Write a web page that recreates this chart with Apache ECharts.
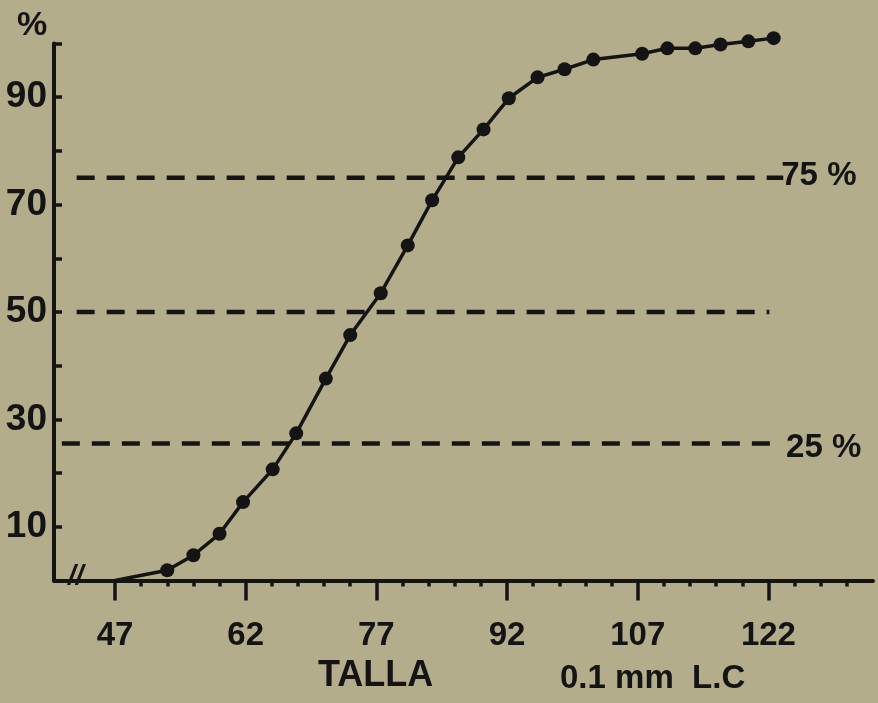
<!DOCTYPE html>
<html>
<head>
<meta charset="utf-8">
<script src="https://cdn.jsdelivr.net/npm/echarts@6/dist/echarts.min.js"></script>
<style>
html,body{margin:0;padding:0;background:#b4ad8c;}
#c{width:878px;height:703px;}
</style>
</head>
<body>
<div id="c"></div>
<script>
// ---- data ----
const startPoint = [47, 0];
const tallas = [53, 56, 59, 61.7, 65.1, 67.8, 71.2, 74, 77.5, 80.6, 83.4, 86.4, 89.3, 92.2, 95.5, 98.6, 101.9, 107.5, 110.4, 113.6, 116.5, 119.7, 122.6];
const cumPct = [1.9, 4.7, 8.7, 14.6, 20.7, 27.4, 37.6, 45.7, 53.5, 62.4, 70.8, 78.8, 84.0, 89.8, 93.7, 95.2, 97.0, 98.1, 99.1, 99.1, 99.8, 100.4, 101.0];
const xMajorTicks = [47, 62, 77, 92, 107, 122];
const xMinorTicks = [50, 53, 56, 59, 65, 68, 71, 74, 80, 83, 86, 89, 95, 98, 101, 104, 110, 113, 116, 119, 125, 128, 131];
const yLabelValues = [10, 30, 50, 70, 90];
const refLevels = [75, 50, 25.5];
const refLabels = ['75 %', '', '25 %'];
const refStart = [42.6, 42.6, 40.9];
const refEnd = [123.7, 122.1, 123.1];

const ink = '#141414';
const font = 'Liberation Sans';

const curveData = [{value: startPoint, symbol: 'none'}].concat(
  tallas.map((x, i) => ({value: [x, cumPct[i]]}))
);

const refSeries = refLevels.map((lv, i) => ({
  type: 'line',
  data: [[refStart[i], lv], [refEnd[i], lv]],
  symbol: 'none',
  silent: true,
  clip: false,
  z: 2,
  lineStyle: {color: ink, width: 4.5, type: [18, 12], cap: 'butt'},
  endLabel: {
    show: refLabels[i] !== '',
    formatter: refLabels[i],
    color: ink,
    fontFamily: font,
    fontWeight: 'bold',
    fontSize: 33,
    distance: 0,
    offset: i === 2 ? [8, 4] : [-2, -2]
  }
}));

const chart = echarts.init(document.getElementById('c'), null, {renderer: 'canvas'});
const common = {min: 40, max: 134, type: 'value', splitLine: {show: false}};
chart.setOption({
  backgroundColor: '#b4ad8c',
  animation: false,
  grid: {left: 54, right: 5, top: 43.5, bottom: 122.5, containLabel: false},
  xAxis: [
    Object.assign({}, common, {
      axisLine: {show: true, onZero: false, lineStyle: {color: ink, width: 4}},
      axisTick: {show: true, customValues: xMajorTicks, length: 20, lineStyle: {color: ink, width: 3.5}},
      axisLabel: {show: true, customValues: xMajorTicks, margin: 39, color: ink, fontFamily: font, fontWeight: 'bold', fontSize: 33}
    }),
    Object.assign({}, common, {
      position: 'bottom',
      axisLine: {show: false},
      axisTick: {show: true, customValues: xMinorTicks, length: 6, lineStyle: {color: ink, width: 3.5}},
      axisLabel: {show: false}
    })
  ],
  yAxis: {
    type: 'value', min: 0, max: 100, interval: 10,
    splitLine: {show: false},
    axisLine: {show: true, lineStyle: {color: ink, width: 4}},
    axisTick: {show: true, inside: true, length: 8, lineStyle: {color: ink, width: 3.5}},
    axisLabel: {
      margin: 7, color: ink, fontFamily: font, fontWeight: 'bold', fontSize: 37,
      formatter: v => (yLabelValues.indexOf(v) >= 0 ? String(v) : '')
    }
  },
  graphic: [
    {type: 'text', left: 17, top: 9, style: {text: '%', fill: ink, font: 'bold 34px "Liberation Sans"'}},
    {type: 'text', left: 318, top: 658, style: {text: 'TALLA', fill: ink, font: 'bold 36px "Liberation Sans"'}},
    {type: 'text', left: 560, top: 662, style: {text: '0.1 mm  L.C', fill: ink, font: 'bold 33px "Liberation Sans"'}},
    {type: 'text', left: 68, top: 562, style: {text: '//', fill: ink, font: 'italic bold 28px "Liberation Sans"'}}
  ],
  series: refSeries.concat([{
    type: 'line',
    data: curveData,
    clip: false,
    z: 5,
    symbol: 'circle',
    symbolSize: 14,
    showAllSymbol: true,
    itemStyle: {color: ink},
    lineStyle: {color: ink, width: 3.5}
  }])
});
</script>
</body>
</html>
